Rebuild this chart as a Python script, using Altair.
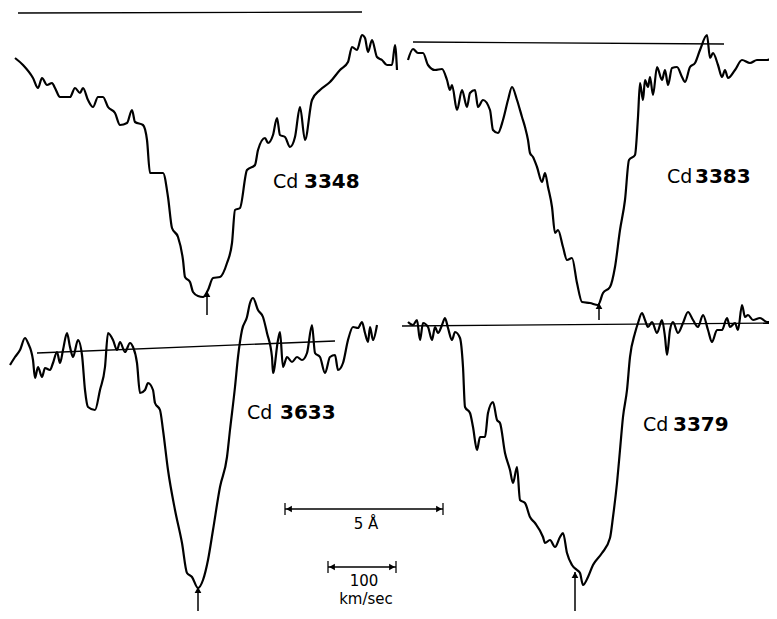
import altair as alt
import pandas as pd

# ---- traced profiles (figure pixel coordinates: x to the right, y downwards) ----
cd3348_x = [15,23,33,38,42,47,52,55,60,70,75,80,83,88,93,98,103,108,115,120,127,132,135,143,147,150,157,163,168,172,178,183,185,190,193,198,203,208,213,220,227,232,235,240,247,255,258,265,268,273,277,280,285,290,295,300,305,312,320,330,340,348,352,357,362,365,368,372,377,382,387,392,395,397]
cd3348_y = [58,65,78,88,78,85,83,88,97,97,88,93,88,100,107,97,97,107,113,125,123,110,122,125,140,173,173,173,197,228,237,260,277,282,292,296,297,290,278,277,263,243,210,208,170,165,150,138,143,135,118,135,137,147,137,107,140,100,90,82,70,62,47,50,35,38,52,40,57,60,65,65,45,70]

cd3383_x = [408,413,418,423,428,435,442,447,450,452,457,462,467,470,475,478,483,490,493,498,503,508,512,517,522,525,528,530,533,537,542,545,548,552,555,558,563,567,572,577,582,590,598,603,610,615,620,625,629,635,638,640,643,645,648,650,653,657,662,665,668,672,677,682,685,690,695,700,707,710,713,718,722,725,728,735,742,750,757,767,777]
cd3383_y = [60,49,53,53,65,70,69,80,90,85,110,90,107,93,90,107,100,110,130,133,120,100,87,100,117,127,140,153,157,167,182,173,187,207,233,230,247,260,258,283,302,303,305,293,287,267,230,200,160,155,117,83,100,80,87,77,95,67,80,70,85,68,67,77,82,67,63,50,35,58,53,65,77,70,78,70,60,63,60,60,53]

cd3633_x = [10,15,20,25,28,33,35,38,42,45,50,53,57,60,63,67,70,73,78,82,85,88,95,100,105,108,113,117,120,125,130,133,137,140,145,148,153,155,160,163,168,175,182,187,192,198,203,208,213,220,227,230,235,238,242,247,250,253,258,263,267,272,273,278,280,283,287,292,297,302,307,312,315,320,325,330,335,338,343,348,353,358,362,365,368,370,373,377]
cd3633_y = [365,357,350,338,343,360,378,367,377,368,370,363,352,363,350,333,347,357,340,355,390,407,410,390,367,333,340,350,342,352,343,347,363,393,390,383,390,403,410,430,470,510,543,573,577,588,580,560,530,487,457,430,387,357,330,317,303,298,310,317,333,357,373,340,332,367,357,362,357,360,353,325,353,357,373,357,355,370,363,340,327,328,322,333,342,327,340,325]

cd3379_x = [408,413,417,420,423,428,432,435,438,442,445,448,452,455,460,463,465,470,473,477,480,485,488,493,497,500,505,510,513,517,520,525,530,535,543,545,550,555,560,563,567,572,577,580,583,588,593,602,610,613,617,620,623,627,630,635,638,642,645,648,652,657,662,665,667,670,673,678,683,688,693,698,703,708,712,717,722,727,730,735,738,742,745,748,753,760,767,772]
cd3379_y = [322,325,320,340,323,327,340,327,333,325,318,328,340,332,338,367,407,413,427,450,437,437,413,402,420,423,453,470,483,467,500,503,517,523,537,543,540,547,537,533,553,565,570,573,585,577,565,553,538,517,483,450,417,390,357,333,323,313,320,327,322,333,320,337,355,330,322,333,323,312,320,327,315,330,342,330,330,318,327,323,330,305,317,315,320,318,322,322]

# continuum lines (x1, y1, x2, y2)
continua = [(18, 13, 362, 12), (413, 42, 724, 44), (37, 353, 335, 341), (402, 326, 772, 323)]

# line-centre arrows (x, tip y, tail y)
arrows = [(207, 291, 315), (599, 303, 320), (198, 587, 618), (575, 572, 612)]

# labels
label_cd = [("Cd", 273, 182), ("Cd", 667, 177), ("Cd", 247, 413), ("Cd", 643, 425)]
label_num = [("3348", 304, 182), ("3383", 695, 177), ("3633", 280, 413), ("3379", 673, 425)]

# scale bars (x1, x2, y)
bars = [(285, 443, 509), (328, 396, 567)]
bar_text = [("5 Å", 366, 524), ("100", 364, 581), ("km/sec", 366, 599)]

X = alt.Scale(domain=[8, 769], nice=False, zero=False)
Y = alt.Scale(domain=[8, 611], nice=False, zero=False, reverse=True)


def trace(xs, ys):
    df = pd.DataFrame({"x": xs, "y": ys, "i": range(len(xs))})
    return alt.Chart(df).mark_line(color="black", strokeWidth=2.2, strokeJoin="round",
                                   interpolate="monotone", clip=False).encode(
        x=alt.X("x:Q", scale=X, axis=None),
        y=alt.Y("y:Q", scale=Y, axis=None),
        order="i:Q",
    )


layers = [trace(cd3348_x, cd3348_y), trace(cd3383_x, cd3383_y),
          trace(cd3633_x, cd3633_y), trace(cd3379_x, cd3379_y)]

cont_df = pd.DataFrame(continua, columns=["x", "y", "x2", "y2"])
layers.append(alt.Chart(cont_df).mark_rule(color="black", strokeWidth=1.3).encode(
    x=alt.X("x:Q", scale=X, axis=None), y=alt.Y("y:Q", scale=Y, axis=None), x2="x2:Q", y2="y2:Q"))

arr_df = pd.DataFrame(arrows, columns=["x", "tip", "tail"])
layers.append(alt.Chart(arr_df).mark_rule(color="black", strokeWidth=1.5).encode(
    x=alt.X("x:Q", scale=X, axis=None), y=alt.Y("tip:Q", scale=Y, axis=None), y2="tail:Q"))
layers.append(alt.Chart(arr_df).mark_point(shape="triangle-up", filled=True, color="black", size=45, opacity=1, yOffset=3).encode(
    x=alt.X("x:Q", scale=X, axis=None), y=alt.Y("tip:Q", scale=Y, axis=None)))

bar_df = pd.DataFrame(bars, columns=["x", "x2", "y"])
layers.append(alt.Chart(bar_df).mark_rule(color="black", strokeWidth=1.5).encode(
    x=alt.X("x:Q", scale=X, axis=None), x2="x2:Q", y=alt.Y("y:Q", scale=Y, axis=None)))
layers.append(alt.Chart(bar_df).mark_point(shape="triangle-left", filled=True, color="black", size=45, opacity=1, xOffset=4).encode(
    x=alt.X("x:Q", scale=X, axis=None), y=alt.Y("y:Q", scale=Y, axis=None)))
layers.append(alt.Chart(bar_df).mark_point(shape="triangle-right", filled=True, color="black", size=45, opacity=1, xOffset=-4).encode(
    x=alt.X("x2:Q", scale=X, axis=None), y=alt.Y("y:Q", scale=Y, axis=None)))
layers.append(alt.Chart(bar_df).mark_tick(color="black", thickness=1.8, size=12, orient="vertical").encode(
    x=alt.X("x:Q", scale=X, axis=None), y=alt.Y("y:Q", scale=Y, axis=None)))
layers.append(alt.Chart(bar_df).mark_tick(color="black", thickness=1.8, size=12, orient="vertical").encode(
    x=alt.X("x2:Q", scale=X, axis=None), y=alt.Y("y:Q", scale=Y, axis=None)))

cd_df = pd.DataFrame(label_cd, columns=["t", "x", "y"])
layers.append(alt.Chart(cd_df).mark_text(align="left", baseline="middle", font="DejaVu Sans", fontSize=19, color="black").encode(
    x=alt.X("x:Q", scale=X, axis=None), y=alt.Y("y:Q", scale=Y, axis=None), text="t:N"))
num_df = pd.DataFrame(label_num, columns=["t", "x", "y"])
layers.append(alt.Chart(num_df).mark_text(align="left", baseline="middle", font="DejaVu Sans", fontSize=20, fontWeight="bold", color="black").encode(
    x=alt.X("x:Q", scale=X, axis=None), y=alt.Y("y:Q", scale=Y, axis=None), text="t:N"))
bt_df = pd.DataFrame(bar_text, columns=["t", "x", "y"])
layers.append(alt.Chart(bt_df).mark_text(align="center", baseline="middle", font="DejaVu Sans", fontSize=15, color="black").encode(
    x=alt.X("x:Q", scale=X, axis=None), y=alt.Y("y:Q", scale=Y, axis=None), text="t:N"))

chart = alt.layer(*layers).properties(
    width=761, height=603, padding=0, background="white",
    autosize=alt.AutoSizeParams(type="none"),
).configure_view(stroke=None)

chart.save("out.html", embed_options={"renderer": "svg", "actions": False})
